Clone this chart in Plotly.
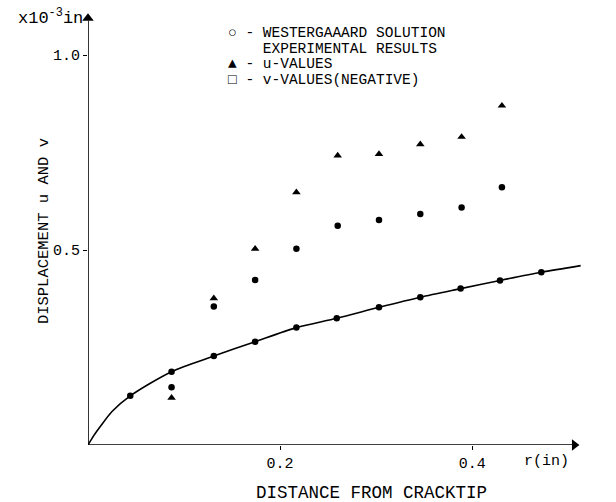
import plotly.graph_objects as go

# Westergaard solution (dots on curve)
west_x = [0.044, 0.087, 0.131, 0.174, 0.217, 0.259, 0.303, 0.346, 0.388, 0.429, 0.472]
west_y = [0.126, 0.188, 0.228, 0.265, 0.301, 0.325, 0.353, 0.379, 0.401, 0.422, 0.443]

# Curve drawn through the solution (read points incl. origin and end)
curve_x = [0.0, 0.006, 0.013, 0.025] + west_x + [0.513]
curve_y = [0.0, 0.024, 0.048, 0.086] + west_y + [0.460]

# Experimental results
exp_x = [0.087, 0.131, 0.174, 0.217, 0.260, 0.303, 0.346, 0.389, 0.431]
u_vals = [0.121, 0.376, 0.503, 0.648, 0.742, 0.746, 0.771, 0.790, 0.870]
v_vals = [0.148, 0.355, 0.423, 0.503, 0.562, 0.577, 0.592, 0.609, 0.661]

x_ticks = [0.2, 0.4]
x_tick_text = ["0.2", "0.4"]
y_ticks = [0.5, 1.0]
y_tick_text = ["0.5", "1.0"]

X_RANGE = [0, 0.530]
Y_RANGE = [0, 1.1205]
X_AXIS_END = 0.512   # arrow tip of the r axis
Y_AXIS_END = 1.108   # arrow tip of the displacement axis

FONT = "Liberation Mono"

fig = go.Figure()
fig.add_trace(go.Scatter(x=curve_x, y=curve_y, mode="lines",
                         line=dict(color="black", width=1.6, shape="spline", smoothing=0.8),
                         hoverinfo="skip", showlegend=False))
fig.add_trace(go.Scatter(x=west_x, y=west_y, mode="markers",
                         marker=dict(symbol="circle", size=6.5, color="black"), showlegend=False))
fig.add_trace(go.Scatter(x=exp_x, y=u_vals, mode="markers",
                         marker=dict(symbol="triangle-up", size=7.5, color="black"), showlegend=False))
fig.add_trace(go.Scatter(x=exp_x, y=v_vals, mode="markers",
                         marker=dict(symbol="circle", size=6.5, color="black"), showlegend=False))

# axis lines with arrowheads
fig.add_shape(type="line", x0=0, y0=0, x1=X_AXIS_END - 0.008, y1=0, xref="x", yref="y",
              line=dict(color="black", width=1.6))
fig.add_shape(type="line", x0=0, y0=0, x1=0, y1=Y_AXIS_END - 0.02, xref="x", yref="y",
              line=dict(color="black", width=1.6))
fig.add_trace(go.Scatter(x=[X_AXIS_END - 0.0055], y=[0], mode="markers", cliponaxis=False,
                         marker=dict(symbol="triangle-right", size=10, color="black"),
                         hoverinfo="skip", showlegend=False))
fig.add_trace(go.Scatter(x=[0], y=[Y_AXIS_END - 0.014], mode="markers", cliponaxis=False,
                         marker=dict(symbol="triangle-up", size=10, color="black"),
                         hoverinfo="skip", showlegend=False))

tfont = dict(family=FONT, size=15, color="black")
# unit labels and titles (paper coordinates)
fig.add_annotation(x=0.900, y=-0.037, xref="paper", yref="paper", text="r(in)", showarrow=False,
                   font=tfont, xanchor="center", yanchor="middle")
fig.add_annotation(x=-0.006, y=0.979, xref="paper", yref="paper", text="x10<sup>-3</sup>in", showarrow=False,
                   font=dict(family=FONT, size=17, color="black"), xanchor="right", yanchor="middle")
fig.add_annotation(x=0.556, y=-0.110, xref="paper", yref="paper", text="DISTANCE FROM CRACKTIP", showarrow=False,
                   font=dict(family=FONT, size=17.5, color="black"), xanchor="center", yanchor="middle")
fig.add_annotation(x=-0.086, y=0.49, xref="paper", yref="paper", text="DISPLACEMENT u AND v", showarrow=False,
                   textangle=-90, font=dict(family=FONT, size=15.5, color="black"),
                   xanchor="center", yanchor="middle")

# legend text
leg_lines = ["\u25cb - WESTERGAAARD SOLUTION",
             "    EXPERIMENTAL RESULTS",
             "\u25b2 - u-VALUES",
             "\u25a1 - v-VALUES(NEGATIVE)"]
leg_py = [33, 49, 64.5, 80]
for t, py in zip(leg_lines, leg_py):
    fig.add_annotation(x=(226 - 88) / 509, y=(445 - py) / 437, xref="paper", yref="paper",
                       text=t.replace(" ", "\u00a0"), showarrow=False,
                       font=dict(family=FONT, size=14.5, color="black"), xanchor="left", yanchor="middle")

fig.update_xaxes(range=X_RANGE, showgrid=False, zeroline=False, showline=False,
                 tickvals=x_ticks, ticktext=x_tick_text, ticks="outside", ticklen=4, tickcolor="black",
                 tickfont=tfont, fixedrange=True)
fig.update_yaxes(range=Y_RANGE, showgrid=False, zeroline=False, showline=False,
                 tickvals=y_ticks, ticktext=y_tick_text, ticks="outside", ticklen=4, tickcolor="black",
                 tickfont=tfont, fixedrange=True)
fig.update_layout(width=616, height=502, margin=dict(l=88, r=19, t=8, b=57),
                  plot_bgcolor="white", paper_bgcolor="white", showlegend=False)
fig.write_html("out.html")
